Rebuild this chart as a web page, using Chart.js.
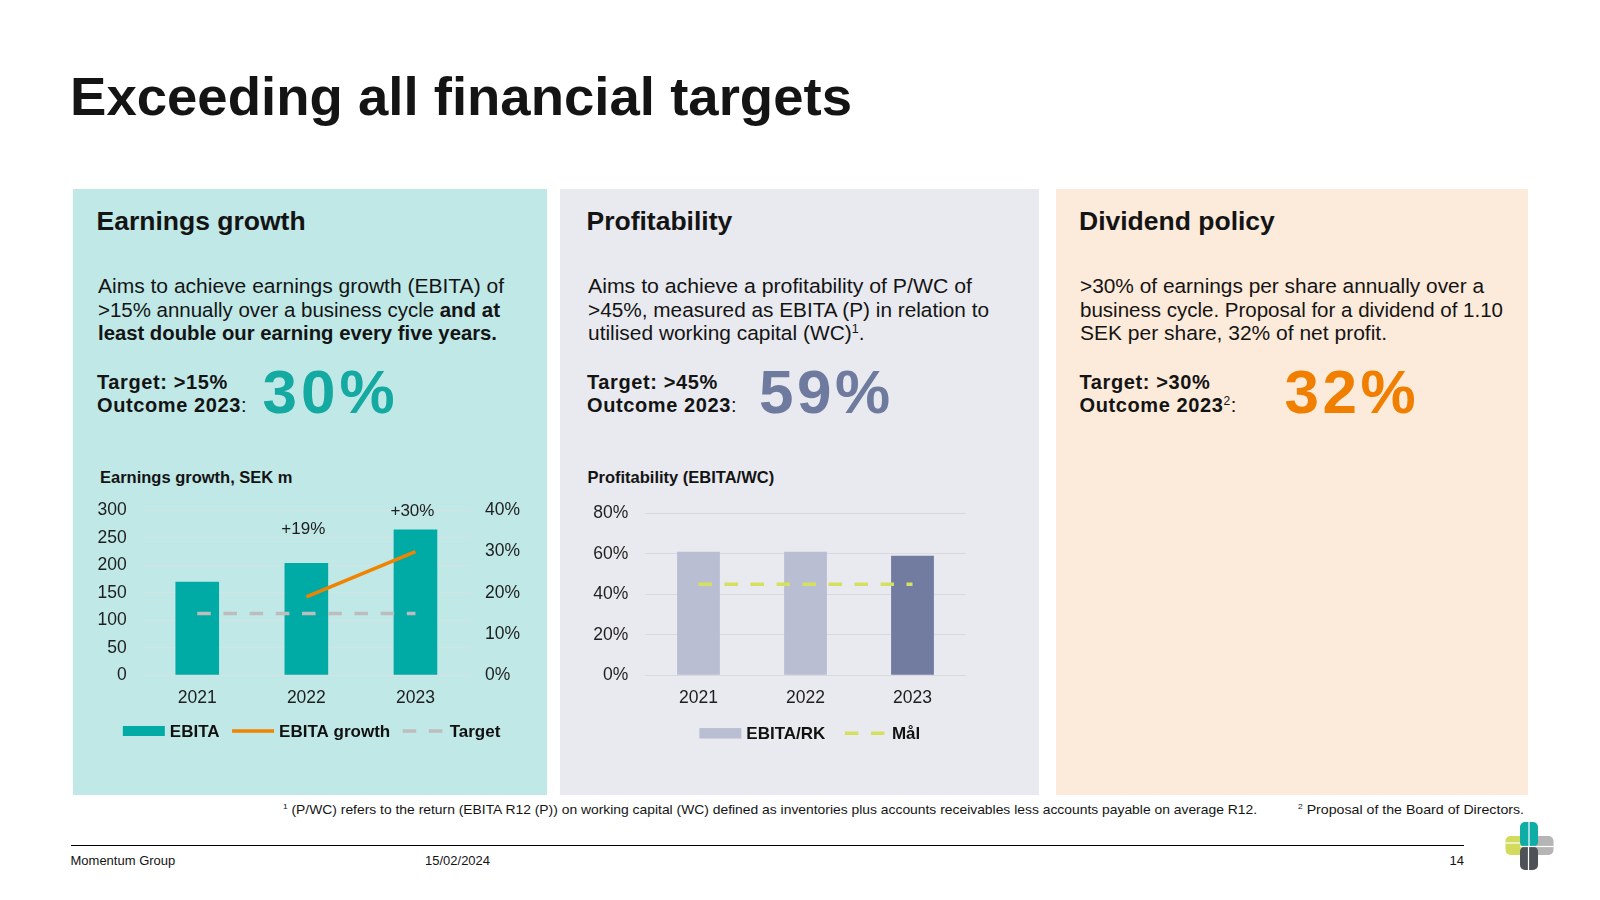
<!DOCTYPE html>
<html><head><meta charset="utf-8">
<script src="https://cdn.jsdelivr.net/npm/chart.js@4.4.1/dist/chart.umd.min.js"></script>
<style>
html,body{margin:0;padding:0;background:#fff;}
body{width:1600px;height:900px;position:relative;overflow:hidden;font-family:"Liberation Sans",Arial,sans-serif;color:#141414;}
.t{position:absolute;white-space:nowrap;}
.panel{position:absolute;top:189px;height:606px;}
.cw{position:absolute;}
sup{font-size:0.6em;line-height:0;vertical-align:0.6em;}
b{font-weight:700;}
</style></head><body>
<div class="panel" style="left:73px;width:474px;background:#BFE8E7"></div>
<div class="panel" style="left:560px;width:479px;background:#E9EAEF"></div>
<div class="panel" style="left:1056px;width:472px;background:#FCEADA"></div>
<div class="cw" style="left:80px;top:491px;width:460px;height:270px"><canvas id="c1" width="460" height="270"></canvas></div>
<div class="cw" style="left:570px;top:491px;width:440px;height:270px"><canvas id="c2" width="440" height="270"></canvas></div>
<div style="position:absolute;left:71px;top:845px;width:1393px;height:1px;background:#000"></div>
<svg style="position:absolute;left:1500px;top:816px" width="60" height="60" viewBox="1500 816 60 60">
  <rect x="1505.5" y="836" width="25" height="19" rx="5" fill="#D3DB5E"/>
  <rect x="1529" y="836" width="24.5" height="19" rx="5" fill="#B5B5B5"/>
  <rect x="1520" y="822" width="18" height="25" rx="5" fill="#10ADA6"/>
  <rect x="1520" y="846.5" width="18" height="23.5" rx="5" fill="#4E5156"/>
  <line x1="1529" y1="822" x2="1529" y2="847" stroke="#fff" stroke-width="1.2"/>
  <line x1="1528.5" y1="847" x2="1528.5" y2="870" stroke="#fff" stroke-width="1.2"/>
  <line x1="1505.5" y1="843" x2="1520" y2="843" stroke="#fff" stroke-width="1.2"/>
  <line x1="1538" y1="846.5" x2="1553.5" y2="846.5" stroke="#fff" stroke-width="1.2"/>
  <line x1="1520" y1="846.5" x2="1538" y2="846.5" stroke="#fff" stroke-width="1.2"/>
</svg>
<script>
// ---------- data ----------
const years = ['2021', '2022', '2023'];
const ebita = [170, 204, 265];
const ebitaGrowth = [null, 19, 30];
const growthTarget = [15, 15, 15];
const ebitaTicks = [0, 50, 100, 150, 200, 250, 300];
const growthTicks = [0, 10, 20, 30, 40];
const profitability = [61, 61, 59];
const profitTarget = [45, 45, 45];
const profitTicks = [0, 20, 40, 60, 80];

// ---------- text helper ----------
function txt(html, x, base, fs, o = {}) {
  const lh = o.lh || Math.round(fs * 1.15);
  const d = document.createElement('div');
  d.className = 't';
  d.innerHTML = html;
  const top = base - (lh - 1.117 * fs) / 2 - 0.905 * fs;
  d.style.top = top + 'px';
  d.style.fontSize = fs + 'px';
  d.style.lineHeight = lh + 'px';
  d.style.fontWeight = o.w || 400;
  d.style.color = o.c || '#141414';
  if (o.ls) d.style.letterSpacing = o.ls + 'px';
  if (o.align === 'right') d.style.right = (1600 - x) + 'px'; else d.style.left = x + 'px';
  document.body.appendChild(d);
  if (o.width) {
    const w = d.getBoundingClientRect().width;
    d.style.transformOrigin = '0 0';
    d.style.transform = 'scaleX(' + (o.width / w) + ')';
  }
  return d;
}
function para(lines, widths, x, base, fs, lh) {
  lines.forEach((l, i) => txt(l, x, base + i * lh, fs, {width: widths[i]}));
}

txt('Exceeding all financial targets', 69.5, 115, 54, {w: 700, width: 782});

// panel 1
txt('Earnings growth', 96.5, 230, 26.5, {w: 700});
para(['Aims to achieve earnings growth (EBITA) of',
      '&gt;15% annually over a business cycle <b>and at</b>',
      '<b>least double our earning every five years.</b>'],
     [406, 402, 399], 97.5, 293.3, 20.5, 23.35);
txt('Target: &gt;15%<br>Outcome 2023<span style="font-weight:400">:</span>', 97, 389.3, 20, {w: 700, lh: 23, ls: 0.6});
txt('30%', 262.5, 413.3, 62, {w: 700, c: '#14A9A1', ls: 4});
txt('Earnings growth, SEK m', 100, 483.3, 16.5, {w: 700});
// panel 2
txt('Profitability', 586.5, 230, 26.5, {w: 700});
para(['Aims to achieve a profitability of P/WC of',
      '&gt;45%, measured as EBITA (P) in relation to',
      'utilised working capital (WC)<sup>1</sup>.'],
     [384, 401, 276.5], 587.5, 293.3, 20.5, 23.35);
txt('Target: &gt;45%<br>Outcome 2023<span style="font-weight:400">:</span>', 587, 389.3, 20, {w: 700, lh: 23, ls: 0.6});
txt('59%', 759, 413.3, 62, {w: 700, c: '#6F7A9F', ls: 3.5});
txt('Profitability (EBITA/WC)', 587.5, 483.3, 16.5, {w: 700});
// panel 3
txt('Dividend policy', 1079, 230, 26.5, {w: 700});
para(['&gt;30% of earnings per share annually over a',
      'business cycle. Proposal for a dividend of 1.10',
      'SEK per share, 32% of net profit.'],
     [404, 423, 307], 1079.5, 293.3, 20.5, 23.35);
txt('Target: &gt;30%<br>Outcome 2023<sup style="font-weight:400">2</sup><span style="font-weight:400">:</span>', 1079.5, 389.3, 20, {w: 700, lh: 23, ls: 0.6});
txt('32%', 1284.5, 413.3, 62, {w: 700, c: '#F07F00', ls: 3.5});
// footnotes / footer
txt('<sup>1</sup> (P/WC) refers to the return (EBITA R12 (P)) on working capital (WC) defined as inventories plus accounts receivables less accounts payable on average R12.', 283, 814.5, 13, {width: 974});
txt('<sup>2</sup> Proposal of the Board of Directors.', 1297.5, 814.5, 13, {width: 226});
txt('Momentum Group', 70.5, 865.5, 13);
txt('15/02/2024', 425, 865.5, 13);
txt('14', 1464, 865.5, 13, {align: 'right'});

// ---------- plugins ----------
const FONT = '"Liberation Sans", Arial, sans-serif';
const customLegend = {
  id: 'customLegend',
  afterDraw(chart, args, o) {
    const ctx = chart.ctx;
    const dss = chart.data.datasets;
    ctx.save();
    ctx.font = 'bold ' + o.fontSize + 'px ' + FONT;
    const ws = dss.map(ds => ctx.measureText(ds.label).width);
    const total = dss.reduce((s, ds, i) => s + o.swatch + o.textGap + ws[i], 0) + o.itemGap * (dss.length - 1);
    let x = o.centerX - total / 2;
    const cy = o.y;
    dss.forEach((ds, i) => {
      if (ds.type === 'line') {
        ctx.beginPath();
        ctx.strokeStyle = ds.borderColor;
        ctx.lineWidth = ds.borderWidth;
        ctx.setLineDash(ds.borderDash || []);
        ctx.lineCap = 'butt';
        ctx.moveTo(x, cy); ctx.lineTo(x + o.swatch, cy);
        ctx.stroke();
        ctx.setLineDash([]);
      } else {
        ctx.fillStyle = Array.isArray(ds.backgroundColor) ? ds.backgroundColor[0] : ds.backgroundColor;
        ctx.fillRect(x, cy - o.boxH / 2, o.swatch, o.boxH);
      }
      x += o.swatch + o.textGap;
      ctx.fillStyle = o.color;
      ctx.textAlign = 'left';
      ctx.textBaseline = 'alphabetic';
      ctx.fillText(ds.label, x, cy + 0.358 * o.fontSize);
      x += ws[i] + o.itemGap;
    });
    ctx.restore();
  }
};
const growthLabels = {
  id: 'growthLabels',
  afterDatasetsDraw(chart, args, o) {
    const meta = chart.getDatasetMeta(0);
    const ctx = chart.ctx;
    ctx.save();
    ctx.font = o.fontSize + 'px ' + FONT;
    ctx.fillStyle = o.color;
    ctx.textAlign = 'center';
    ctx.textBaseline = 'alphabetic';
    ebitaGrowth.forEach((v, i) => {
      if (v == null) return;
      const bar = meta.data[i];
      ctx.fillText('+' + v + '%', bar.x + o.dx, bar.y - o.offsets[i]);
    });
    ctx.restore();
  }
};

const tickFont = {family: FONT, size: 17.5};
const tickColor = '#1e1e1e';
const noPad = s => { s.paddingTop = 0; s.paddingBottom = 0; };

// ---------- chart 1 ----------
new Chart(document.getElementById('c1'), {
  type: 'bar',
  data: {
    labels: years,
    datasets: [
      {label: 'EBITA', type: 'bar', data: ebita, yAxisID: 'y', backgroundColor: '#00ABA6', barPercentage: 0.4, categoryPercentage: 1, order: 3},
      {label: 'EBITA growth', type: 'line', data: ebitaGrowth, yAxisID: 'y2', borderColor: '#F08300', borderWidth: 3.5, pointRadius: 0, order: 1, spanGaps: false, borderCapStyle: 'butt'},
      {label: 'Target', type: 'line', data: growthTarget, yAxisID: 'y2', borderColor: '#BDBDBD', borderWidth: 3.5, borderDash: [13.5, 12.7], pointRadius: 0, order: 2}
    ]
  },
  plugins: [customLegend, growthLabels],
  options: {
    responsive: false, animation: false, devicePixelRatio: 1,
    layout: {padding: {top: 19.3, bottom: 45.7, left: 0, right: 0}},
    plugins: {
      legend: {display: false}, tooltip: {enabled: false},
      customLegend: {centerX: 231.6, y: 240, swatch: 42, textGap: 5, itemGap: 12.5, boxH: 10, fontSize: 17, color: '#111'},
      growthLabels: {fontSize: 17, color: '#1e1e1e', offsets: [0, 29.6, 13.3], dx: -3}
    },
    scales: {
      x: {
        grid: {display: false}, border: {display: false},
        ticks: {font: tickFont, color: tickColor, padding: 4},
        afterFit: s => { s.height = 40; }
      },
      y: {
        min: 0, max: 300,
        afterBuildTicks: s => { s.ticks = ebitaTicks.map(v => ({value: v})); },
        grid: {color: '#D3E3E3', lineWidth: 1, drawTicks: false}, border: {display: false},
        ticks: {font: tickFont, color: tickColor, padding: 16},
        afterFit: s => { s.width = 62.7; noPad(s); }
      },
      y2: {
        position: 'right', min: 0, max: 40,
        afterBuildTicks: s => { s.ticks = growthTicks.map(v => ({value: v})); },
        grid: {display: false, drawTicks: false}, border: {display: false},
        ticks: {font: tickFont, color: tickColor, padding: 15, callback: v => v + '%'},
        afterFit: s => { s.width = 70; noPad(s); }
      }
    }
  }
});

// ---------- chart 2 ----------
new Chart(document.getElementById('c2'), {
  type: 'bar',
  data: {
    labels: years,
    datasets: [
      {label: 'EBITA/RK', type: 'bar', data: profitability, backgroundColor: ['#B9BED3', '#B9BED3', '#727CA0'], barPercentage: 0.4, categoryPercentage: 1, order: 2},
      {label: 'Mål', type: 'line', data: profitTarget, borderColor: '#D5E05E', borderWidth: 3.5, borderDash: [13.5, 12.5], pointRadius: 0, order: 1}
    ]
  },
  plugins: [customLegend],
  options: {
    responsive: false, animation: false, devicePixelRatio: 1,
    layout: {padding: {top: 22.3, bottom: 45.7, left: 0, right: 44}},
    plugins: {
      legend: {display: false}, tooltip: {enabled: false},
      customLegend: {centerX: 239.8, y: 242.3, swatch: 42, textGap: 5, itemGap: 19.5, boxH: 10.5, fontSize: 17, color: '#111'}
    },
    scales: {
      x: {
        grid: {display: false}, border: {display: false},
        ticks: {font: tickFont, color: tickColor, padding: 4},
        afterFit: s => { s.height = 40; }
      },
      y: {
        min: 0, max: 80,
        afterBuildTicks: s => { s.ticks = profitTicks.map(v => ({value: v})); },
        grid: {color: '#D8D9DF', lineWidth: 1, drawTicks: false}, border: {display: false},
        ticks: {font: tickFont, color: tickColor, padding: 16.7, callback: v => v + '%'},
        afterFit: s => { s.width = 75; noPad(s); }
      }
    }
  }
});
</script>
</body></html>
